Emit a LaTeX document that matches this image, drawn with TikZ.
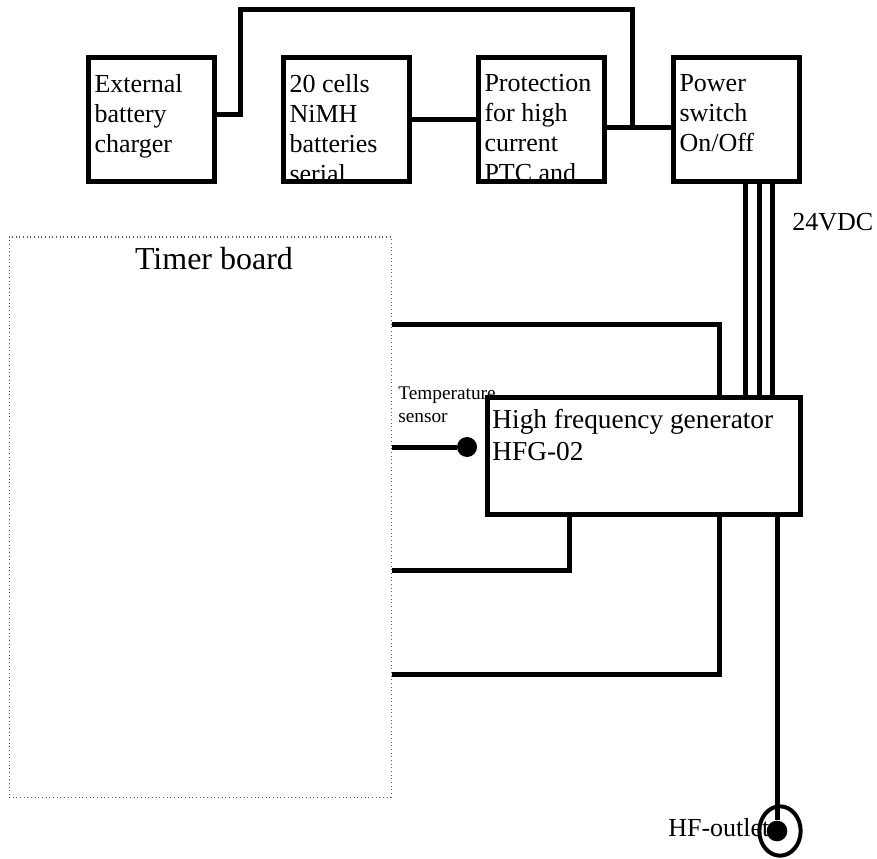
\documentclass[tikz,border=0pt]{standalone}
\usepackage{fontspec}
\setmainfont{Liberation Serif}
\usepackage{tikz}
\usetikzlibrary{positioning,calc,shapes.geometric}

\newcommand{\boxfont}{\fontsize{19.5pt}{22.5pt}\selectfont}
\newcommand{\genfont}{\fontsize{20.5pt}{24pt}\selectfont}
\newcommand{\titlefont}{\fontsize{24pt}{28pt}\selectfont}
\newcommand{\tinyfont}{\fontsize{14.5pt}{17.25pt}\selectfont}

\begin{document}
\begin{tikzpicture}[
        x=0.75pt, y=-0.75pt,
        node distance=51.75pt,
        box/.style={rectangle, draw, line width=3.75pt, minimum width=94.5pt, minimum height=93pt, inner sep=0pt, outer sep=0pt},
        boxtext/.style={path picture={
            \clip ([shift={(1.9pt,-1.9pt)}]path picture bounding box.north west) rectangle ([shift={(-1.9pt,1.9pt)}]path picture bounding box.south east);
            \node[draw=none, minimum width=0pt, minimum height=0pt, anchor=north west, inner sep=0pt, align=left, font=\boxfont] at ([shift={(4.5pt,-12pt)}]path picture bounding box.north west) {#1};}},
        board/.style={rectangle, draw=gray!70!black, dotted, line width=0.75pt, minimum width=286.5pt, minimum height=420pt, inner sep=0pt},
        wire/.style={line width=3.75pt},
        dot/.style={circle, fill=black, inner sep=0pt, minimum size=15pt},
        note/.style={inner sep=0pt, align=left}
    ]
    \useasboundingbox (0,0) rectangle (877,859);

    % Battery and supply row
    \node[box, boxtext={External\\battery\\charger}] (charger) at (151.5,120) {};
    \node[box, boxtext={20 cells\\NiMH\\batteries\\serial}, right=of charger] (cells) {};
    \node[box, boxtext={Protection\\for high\\current\\PTC and}, right=of cells] (protect) {};
    \node[box, boxtext={Power\\switch\\On/Off}, right=of protect] (power) {};

    % Timer board
    \node[board] (timer) at (200,517) {};
    \node[font=\titlefont, anchor=base, inner sep=0pt] (timertitle) at (214,269) {Timer board};

    % Generator
    \node[note, font=\tinyfont, anchor=north west] (senslabel) at (398,387) {Temperature\\sensor};
    \node[box, minimum width=234.75pt, minimum height=87.75pt] (hfg) at (644,456) {};
    \node[note, font=\genfont, anchor=north west] (hfgtext) at ([shift={(3.5pt,-8.5pt)}]hfg.north west) {High frequency generator\\HFG-02};
    \node[dot] (tsens) at (467,447) {};

    % Outlet
    \node[note, font=\boxfont, anchor=base west] (outlabel) at (668,836) {HF-outlet};
    \node[draw, ellipse, line width=3pt, minimum width=31pt, minimum height=37pt, inner sep=0pt] (outlet) at (780,831) {};
    \node[dot, minimum size=15.5pt] (outdot) at (777,831) {};

    \node[note, font=\boxfont, anchor=base west] (vdc) at (792,230) {24VDC};

    % Wires in the supply row
    \draw[wire] (cells) -- (protect);
    \draw[wire] ([yshift=-6pt]protect.east) -- coordinate[pos=0.4] (jn) ([yshift=-6pt]power.west);
    \draw[wire] ([yshift=3.75pt]charger.east) -- ++(26,0) -- ++(0,-105) -| (jn);

    % 24VDC feed
    \foreach \dx in {8.5,22.5,35.5}
        \draw[wire] (power.south) ++(\dx,0) coordinate (feed) -- (feed |- hfg.north);

    % Timer board to generator
    \draw[wire] (timer.east) ++(0,-193) -| ([xshift=56.25pt]hfg.north);
    \draw[wire] (timer.east |- tsens) -- (tsens);
    \draw[wire] (timer.east) ++(0,53) -| ([xshift=-56.25pt]hfg.south);
    \draw[wire] (timer.east) ++(0,157) -| ([xshift=56.25pt]hfg.south);

    % Generator to outlet
    \draw[wire] (hfg.south -| outdot) -- (outdot);

\end{tikzpicture}
\end{document}
